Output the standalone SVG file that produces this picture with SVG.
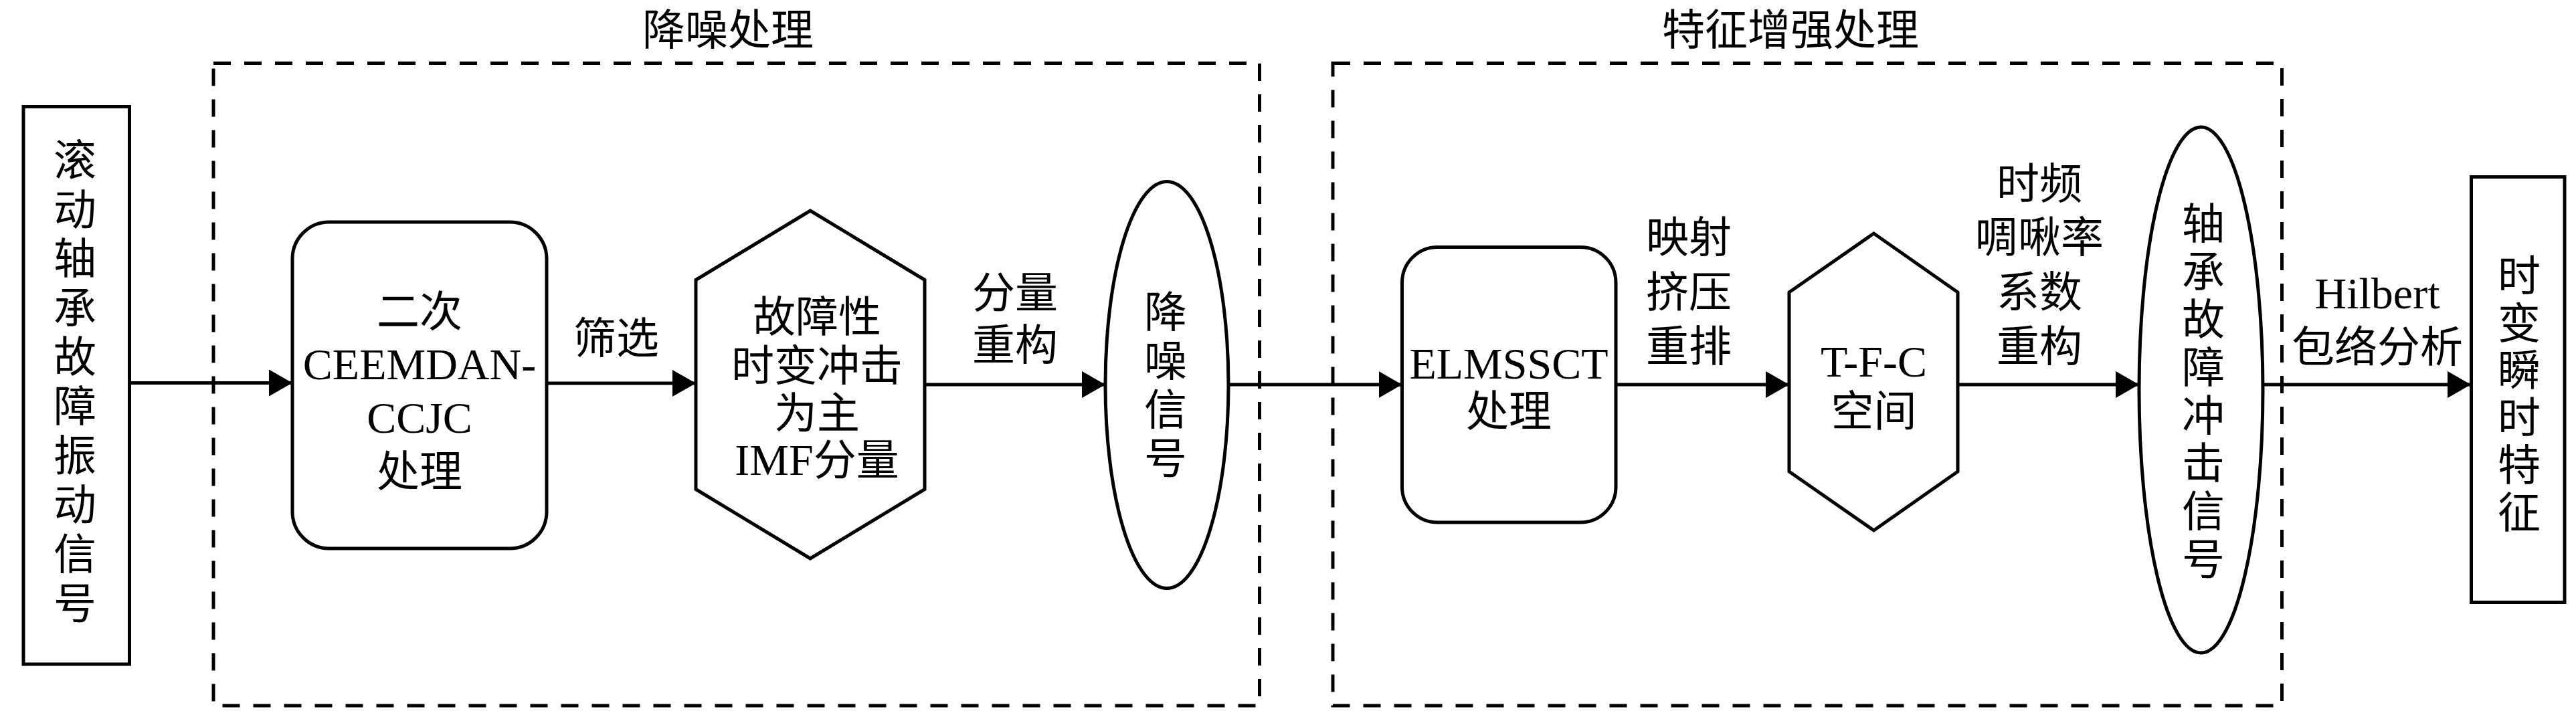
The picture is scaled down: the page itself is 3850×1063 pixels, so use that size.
<svg xmlns="http://www.w3.org/2000/svg" width="3850" height="1063" viewBox="0 0 3850 1063">
<style>
.s{fill:#fff;stroke:#000;stroke-width:5}
.d{fill:none;stroke:#000;stroke-width:5;stroke-dasharray:26 20}
.c{fill:none;stroke:#000;stroke-width:4.8}
text{font-family:'Liberation Serif','Noto Sans CJK SC',serif;font-size:64px;fill:#000;text-anchor:middle}
.l{font-size:66px}
</style>
<defs>
<marker id="ah" markerUnits="userSpaceOnUse" markerWidth="36" markerHeight="40" refX="35" refY="20" orient="auto">
<path d="M0,0 L35,20 L0,40 Z" fill="#000"/>
</marker>
</defs>
<rect width="3850" height="1063" fill="#fff"/>
<g id="group-denoise">
<rect class="d" x="319" y="94.5" width="1563.5" height="960.5"/>
<text x="1088" y="67">降噪处理</text>
</g>
<g id="group-enhance">
<rect class="d" x="1992" y="94.5" width="1418.5" height="960.5"/>
<text x="2676" y="67">特征增强处理</text>
</g>
<g id="connectors">
<line class="c" x1="194" y1="572.5" x2="437" y2="572.5" marker-end="url(#ah)"/>
<line class="c" x1="817" y1="573" x2="1040" y2="573" marker-end="url(#ah)"/>
<text x="921" y="528">筛选</text>
<line class="c" x1="1382" y1="575" x2="1652" y2="575" marker-end="url(#ah)"/>
<text x="1517" y="460">分量</text>
<text x="1517" y="538">重构</text>
<line class="c" x1="1836" y1="575" x2="2095.5" y2="575" marker-end="url(#ah)"/>
<line class="c" x1="2415" y1="575" x2="2674" y2="575" marker-end="url(#ah)"/>
<text x="2524" y="377">映射</text>
<text x="2524" y="459">挤压</text>
<text x="2524" y="540">重排</text>
<line class="c" x1="2926" y1="575" x2="3197" y2="575" marker-end="url(#ah)"/>
<text x="3048" y="297">时频</text>
<text x="3048" y="377">啁啾率</text>
<text x="3048" y="459">系数</text>
<text x="3048" y="540">重构</text>
<line class="c" x1="3382" y1="575" x2="3693" y2="575" marker-end="url(#ah)"/>
<text class="l" x="3553" y="461">Hilbert</text>
<text x="3553" y="541">包络分析</text>
</g>
<g id="node-input">
<rect class="s" x="35" y="159.5" width="158.5" height="833.5"/>
<text x="112" y="262">滚</text>
<text x="112" y="336">动</text>
<text x="112" y="409">轴</text>
<text x="112" y="483">承</text>
<text x="112" y="556">故</text>
<text x="112" y="630">障</text>
<text x="112" y="704">振</text>
<text x="112" y="777">动</text>
<text x="112" y="851">信</text>
<text x="112" y="925">号</text>
</g>
<g id="node-ceemdan">
<rect class="s" x="437" y="332" width="380" height="488" rx="55" ry="55"/>
<text x="627" y="488">二次</text>
<text class="l" x="627" y="567">CEEMDAN-</text>
<text class="l" x="627" y="647">CCJC</text>
<text x="627" y="727">处理</text>
</g>
<g id="node-imf">
<polygon class="s" points="1211,315 1382,418.5 1382,731.5 1211,835 1040,731.5 1040,418.5"/>
<text x="1221" y="496">故障性</text>
<text x="1221" y="569">时变冲击</text>
<text x="1221" y="640">为主</text>
<text x="1221" y="710"><tspan class="l">IMF</tspan>分量</text>
</g>
<g id="node-denoised">
<ellipse class="s" cx="1744" cy="575.5" rx="92" ry="304"/>
<text x="1742" y="489">降</text>
<text x="1742" y="562">噪</text>
<text x="1742" y="635">信</text>
<text x="1742" y="708">号</text>
</g>
<g id="node-elmssct">
<rect class="s" x="2095.5" y="369.5" width="319.5" height="411.5" rx="53" ry="53"/>
<text class="l" x="2255" y="566">ELMSSCT</text>
<text x="2255" y="637">处理</text>
</g>
<g id="node-tfc">
<polygon class="s" points="2800.5,349 2926,437 2926,705 2800.5,793 2674,705 2674,437"/>
<text class="l" x="2800.5" y="563">T-F-C</text>
<text x="2800.5" y="637">空间</text>
</g>
<g id="node-impact">
<ellipse class="s" cx="3289.5" cy="583" rx="92.5" ry="393"/>
<text x="3293" y="357">轴</text>
<text x="3293" y="429">承</text>
<text x="3293" y="500">故</text>
<text x="3293" y="572">障</text>
<text x="3293" y="644">冲</text>
<text x="3293" y="715">击</text>
<text x="3293" y="787">信</text>
<text x="3293" y="859">号</text>
</g>
<g id="node-output">
<rect class="s" x="3693.5" y="264.5" width="139.5" height="636"/>
<text x="3765" y="435">时</text>
<text x="3765" y="506">变</text>
<text x="3765" y="576">瞬</text>
<text x="3765" y="647">时</text>
<text x="3765" y="718">特</text>
<text x="3765" y="789">征</text>
</g>
</svg>
